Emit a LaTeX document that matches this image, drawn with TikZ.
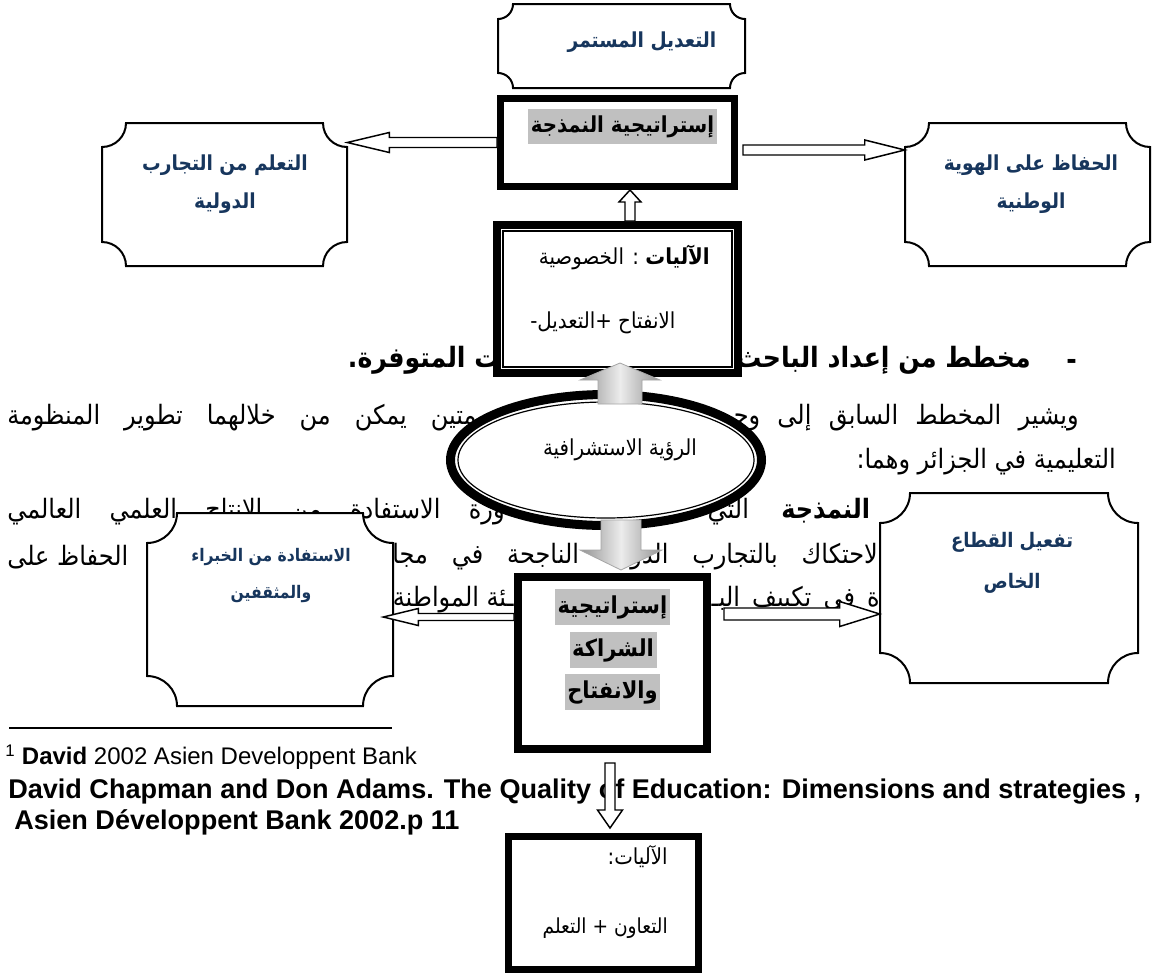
\documentclass[tikz,border=0pt]{standalone}
\usepackage{fontspec}
\setmainfont{Liberation Sans}
\newfontfamily\arabicfont[Script=Arabic, FakeStretch=0.9]{DejaVu Sans}
\TeXXeTstate=1
\usepackage{xcolor}
\usetikzlibrary{calc,fit,shapes.geometric}

\definecolor{navy}{RGB}{23,54,93}
\definecolor{markgray}{RGB}{192,192,192}

\newcommand\ar[1]{\beginR #1\endR}
% a justified piece of a line, #1 its width
\newcommand\jline[2]{\hbox to #1{#2}}

% frame with hollow corners: name, x1, y1, x2, y2, corner
\newcommand\plaque[6]{%
  \draw[plaqueline] (#2+#6,#3) -- (#4-#6,#3)
    arc[start angle=180, end angle=90, radius=#6] -- (#4,#5-#6)
    arc[start angle=270, end angle=180, radius=#6] -- (#2+#6,#5)
    arc[start angle=0, end angle=-90, radius=#6] -- (#2,#3+#6)
    arc[start angle=90, end angle=0, radius=#6] -- cycle;
  \path (#2,#3) coordinate (#1-nw) (#4,#5) coordinate (#1-se);
  \node[fit=(#1-nw)(#1-se)] (#1) {};}

% block arrow: style, tail, tip, half shaft, half head, head length (px)
\newcommand\blockarrow[6][hollow]{%
  \pgfmathsetlengthmacro\bwS{#4*0.75pt}%
  \pgfmathsetlengthmacro\bwH{#5*0.75pt}%
  \pgfmathsetlengthmacro\bwL{#6*0.75pt}%
  \path ($(#3)!\bwL!(#2)$) coordinate (bw-h);
  \draw[#1] ($(#2)!\bwS!90:(#3)$) -- ($(bw-h)!\bwS!90:(#3)$)
    -- ($(bw-h)!\bwH!90:(#3)$) -- (#3) -- ($(bw-h)!\bwH!-90:(#3)$)
    -- ($(bw-h)!\bwS!-90:(#3)$) -- ($(#2)!\bwS!-90:(#3)$) -- cycle;}

\begin{document}
\begin{tikzpicture}[x=0.75pt, y=-0.75pt,
    every node/.style={inner sep=0pt},
    plaqueline/.style={draw, line width=1.5pt, fill=white},
    thickbox/.style={draw, line width=5.25pt, fill=white},
    hollow/.style={draw, line width=1.1pt, fill=white},
    grayarrow/.style={draw=gray!70, line width=0.6pt, left color=gray!85,
      right color=gray!85, middle color=gray!15},
    para/.style={font=\arabicfont\fontsize{20}{23}\selectfont},
    head/.style={font=\arabicfont\bfseries\fontsize{21}{25}\selectfont},
    navytext/.style={font=\arabicfont\bfseries\fontsize{15.5}{28.5}\selectfont,
      text=navy, align=center},
    boxtext/.style={font=\arabicfont\fontsize{16.5}{19}\selectfont},
    marked/.style={font=\arabicfont\bfseries\fontsize{16.5}{19}\selectfont,
      fill=markgray, inner xsep=2pt, inner ysep=4.5pt},
    note/.style={font=\bfseries\fontsize{20.3}{24}\selectfont, anchor=west}]

  \path[use as bounding box, fill=white] (0,0) rectangle (1159,975);

  % page text behind the chart
  \node[head, anchor=east] (dash) at (1077,364) {-};
  \node[head, anchor=east] (lineAR) at (1031,360) {\ar{مخطط من إعداد الباحث}};
  \node[head, anchor=east] (lineAL) at (500,360) {\ar{ت المتوفرة.}};
  \node[para, anchor=east] (lineBR) at (1079,418) {\jline{264pt}{\beginR ويشير المخطط السابق إلى وجـ\endR}};
  \node[para, anchor=west] (lineBL) at (7,418) {\jline{358pt}{\beginR ـمتين يمكن من خلالهما تطوير المنظومة\endR}};
  \node[para, anchor=east] (lineC) at (1116,462) {\ar{التعليمية في الجزائر وهما:}};
  \node[para, anchor=east] (lineDR) at (920,512) {\jline{159pt}{\beginR{\bfseries ة النمذجة} التي\endR}};
  \node[para, anchor=west] (lineDL) at (7,512) {\jline{373pt}{\beginR ورة الاستفادة من الانتاج العلمي العالمي\endR}};
  \node[para, anchor=west] (lineEL) at (7,557) {\ar{الحفاظ على}};
  \node[para, anchor=east] (lineER) at (878,557) {\jline{364pt}{\beginR لاحتكاك بالتجارب الدولية الناجحة في مجا\endR}};
  \node[para, anchor=east] (lineFR) at (880,600) {\jline{126pt}{\beginR ة في تكييف البـ\endR}};
  \node[para, anchor=east] (lineFL) at (514,600) {\ar{ـئة المواطنة}};

  % footnote
  \draw[line width=1.1pt] (9,728) -- (392,728);
  \node[note, font=\fontsize{18}{22}\selectfont] (fn1) at (5,757)
    {\textsuperscript{1} \textbf{David} 2002 Asien Developpent Bank};
  \node[note] (fn2) at (8,792)
    {David Chapman and Don Adams. The Quality of Education: Dimensions and strategies ,};
  \node[note] (fn3) at (14,822) {Asien Développent Bank 2002.p 11};

  % side frames
  \plaque{top}{498}{4}{745}{88}{15}
  \node[navytext] (top-t) at (642,42) {\ar{التعديل المستمر}};
  \plaque{lp}{102}{123}{347}{266}{24}
  \node[navytext] (lp-t) at (225,184) {\ar{التعلم من التجارب}\\\ar{الدولية}};
  \plaque{rp}{905}{123}{1150}{266}{24}
  \node[navytext] (rp-t) at (1031,184) {\ar{الحفاظ على الهوية}\\\ar{الوطنية}};
  \plaque{lp2}{147}{513}{393}{706}{30}
  \node[navytext, font=\arabicfont\bfseries\fontsize{13}{27.75}\selectfont] (lp2-t)
    at (271,576) {\ar{الاستفادة من الخبراء}\\\ar{والمثقفين}};
  \plaque{rp2}{880}{493}{1138}{683}{30}
  \node[navytext, font=\arabicfont\bfseries\fontsize{15}{30.75}\selectfont] (rp2-t)
    at (1012,563) {\ar{تفعيل القطاع}\\\ar{الخاص}};

  % middle column
  \node[thickbox, minimum width=175.5pt, minimum height=66pt] (nm) at (617.5,142.5) {};
  \node[marked] (nm-t) at (622.5,126.5) {\ar{إستراتيجية النمذجة}};

  \node[thickbox, line width=6pt, minimum width=180.75pt, minimum height=111pt] (mech) at (617.5,299) {};
  \draw[line width=0.9pt] ($(mech.north west)+(10,10)$) rectangle ($(mech.south east)+(-10,-10)$);
  \node[boxtext, anchor=east] (mech-t1) at (710,257) {\ar{\textbf{الآليات} : الخصوصية}};
  \node[boxtext, anchor=west] (mech-t2) at (530,323) {-\ar{الانفتاح +التعديل}};

  \node[draw, ellipse, line width=6.75pt, fill=white, minimum width=233.25pt,
    minimum height=98.25pt] (vis) at (606,460) {};
  \draw[line width=0.9pt] (vis.center) ellipse[x radius=148, y radius=58];
  \node[boxtext] (vis-t) at (620,450) {\ar{الرؤية الاستشرافية}};

  \node[thickbox, line width=6pt, minimum width=141.75pt, minimum height=129pt] (sh) at (612.5,663) {};
  \node[marked, font=\arabicfont\bfseries\fontsize{17.5}{20}\selectfont] (sh-t1) at (612.5,607) {\ar{إستراتيجية}};
  \node[marked, font=\arabicfont\bfseries\fontsize{17.5}{20}\selectfont] (sh-t2) at (613,650) {\ar{الشراكة}};
  \node[marked, font=\arabicfont\bfseries\fontsize{17.5}{20}\selectfont] (sh-t3) at (612.5,692) {\ar{والانفتاح}};

  \node[thickbox, minimum width=142.5pt, minimum height=99.75pt] (mech2) at (603.5,903) {};
  \node[boxtext, anchor=east] (mech2-t1) at (668,857) {\ar{الآليات:}};
  \node[boxtext, font=\arabicfont\fontsize{15.5}{18}\selectfont, anchor=east] (mech2-t2)
    at (668,928) {\ar{التعاون + التعلم}};

  % arrows
  \coordinate (a2t) at ($(nm.east)+(5,7.5)$);
  \coordinate (a3t) at ($(mech.north)+(12.5,0)$);
  \coordinate (g1t) at ($(vis.north)+(14,14)$);
  \coordinate (g1h) at ($(mech.south -| g1t)+(0,-14)$);
  \coordinate (g2t) at ($(vis.south)+(15,-10)$);
  \coordinate (g2h) at ($(sh.north -| g2t)+(0,-3)$);
  \coordinate (a6t) at ($(sh.east)+(13,-49)$);
  \coordinate (a7t) at ($(sh.west)+(0,-46)$);
  \coordinate (a7h) at ($(lp2.east |- a7t)+(-10,0)$);
  \coordinate (a8t) at ($(sh.south)+(-2.5,10)$);
  \coordinate (a8h) at ($(mech2.north -| a8t)+(0,-5)$);

  \blockarrow{nm.west}{lp.east |- nm.west}{5}{10}{42}
  \blockarrow{a2t}{rp.west |- a2t}{5}{10}{40}
  \blockarrow{a3t}{nm.south -| a3t}{5}{11}{12}
  \blockarrow{a6t}{rp2.west |- a6t}{6}{12.5}{40}
  \blockarrow{a7t}{a7h}{3.5}{8.5}{35}
  \blockarrow{a8t}{a8h}{5}{12.5}{18}
  \blockarrow[grayarrow]{g1t}{g1h}{22}{40}{17}
  \blockarrow[grayarrow]{g2t}{g2h}{20}{41}{20}
\end{tikzpicture}
\end{document}
